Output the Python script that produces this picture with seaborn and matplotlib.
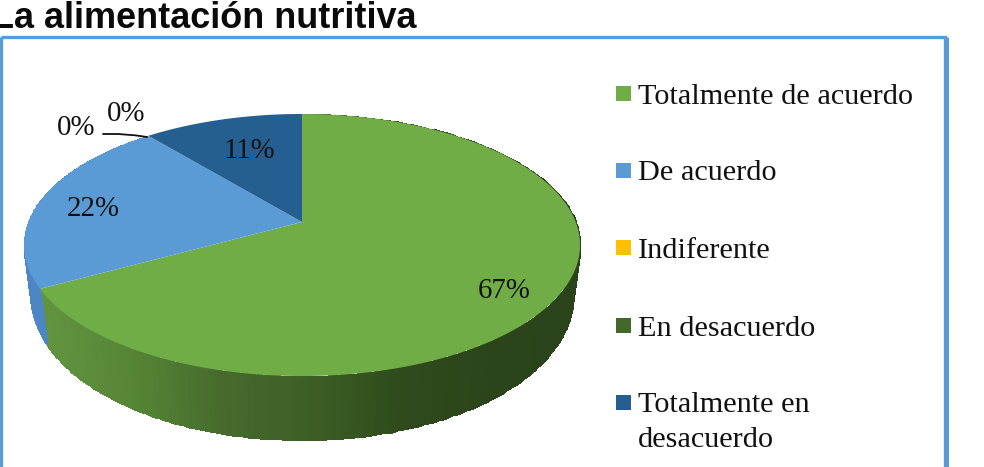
import numpy as np
import matplotlib
matplotlib.use("Agg")
import matplotlib.pyplot as plt
from matplotlib.colors import LinearSegmentedColormap, Normalize
from matplotlib.patches import Rectangle
from matplotlib.path import Path
from matplotlib.transforms import Transform
import seaborn as sns

title = "La alimentación nutritiva"
categories = ["Totalmente de acuerdo", "De acuerdo", "Indiferente",
              "En desacuerdo", "Totalmente en\ndesacuerdo"]
percentages = [67, 22, 0, 0, 11]
slice_colors = ["#70ad47", "#5b9bd5", "#ffc000", "#43682b", "#255e91"]

# Percentage label anchors on the canvas, in slice order
label_xy = [(504, 291), (93, 209), (76, 128), (126, 114), (249, 151)]
# Vertical centre of the first line of each legend entry
legend_rows = [94, 171, 248, 326, 403]

sns.set_theme(style="white")
plt.rcParams["font.family"] = ["Liberation Serif", "DejaVu Serif"]

FOCUS = 0.1756                       # perspective strength of the tilted disc
TOP_DISC = (302.0, 222.0, 273.7, 127.0)
BOTTOM_DISC = (302.0, 270.7, 266.8, 139.5)


def project(uv, disc):
    cx, cy, ax_x, ax_y = disc
    u, v = uv[:, 0], uv[:, 1]
    w = 1 + FOCUS * v
    return np.column_stack([cx + ax_x * u / w, cy - ax_y * v / w])


class TiltedDisc(Transform):
    """Projects the unit-circle pie onto a tilted plane seen in perspective."""
    input_dims = output_dims = 2
    is_separable = False
    has_inverse = False

    def __init__(self, disc):
        super().__init__()
        self.disc = disc

    def transform_non_affine(self, values):
        return project(np.asarray(values, dtype=float), self.disc)

    def transform_path_non_affine(self, path):
        pts = [path.vertices[0]]
        for curve, code in path.iter_bezier():
            if code == Path.MOVETO:
                continue
            pts.extend(curve(np.linspace(0, 1, 40))[1:])
        return Path(project(np.array(pts), self.disc), closed=True)


palette = sns.color_palette(slice_colors)

fig = plt.figure(figsize=(9.84, 4.67), dpi=100, facecolor="white")
ax = fig.add_axes([0, 0, 1, 1])

wedges, _ = ax.pie(percentages, colors=palette, startangle=90, counterclock=False,
                   radius=1, wedgeprops={"linewidth": 0, "zorder": 4})
top_transform = TiltedDisc(TOP_DISC) + ax.transData
for wedge in wedges:
    wedge.set_transform(top_transform)
    wedge.set_clip_on(False)

ax.set_aspect("auto")
ax.set_xlim(0, 984)
ax.set_ylim(467, 0)
ax.axis("off")

# Side wall of the disc: a strip between the rims of the top and bottom planes
wall_ramps = {
    0: LinearSegmentedColormap.from_list(
        "green_wall", ["#629440", "#558536", "#466b2d", "#3c5f25", "#2f4b1c", "#2c441a", "#2b431a"]),
    1: LinearSegmentedColormap.from_list("blue_wall", ["#4d86c4", "#4a80ba"]),
}
edges = np.cumsum([0] + percentages) / np.sum(percentages) * 2 * np.pi
x_norm = Normalize(40, 580)
for i, ramp in wall_ramps.items():
    theta = np.linspace(edges[i], edges[i + 1], 240)
    rim = np.column_stack([np.sin(theta), np.cos(theta)])
    upper, lower = project(rim, TOP_DISC), project(rim, BOTTOM_DISC)
    mesh_x = np.vstack([upper[:, 0], lower[:, 0]])
    mesh_y = np.vstack([upper[:, 1], lower[:, 1]])
    shade = ((upper[:-1, 0] + upper[1:, 0]) / 2)[None, :]
    ax.pcolormesh(mesh_x, mesh_y, shade, cmap=ramp, norm=x_norm, shading="flat",
                  edgecolors="face", linewidth=0.4, zorder=2)

# Percentage labels and the leader line of the zero slice
for value, (x, y) in zip(percentages, label_xy):
    ax.text(x, y, f"{value}%", fontsize=20.8, color="#111111",
            ha="center", va="center", zorder=6)
ax.plot([103, 118, 135, 147], [134, 134, 135.3, 137], color="#111111", lw=1.3, zorder=6)

# Chart frame, which runs past the lower edge of the canvas
frame_color = "#5b9bd5"
ax.add_patch(Rectangle((1.0, 37), 944, 450, fill=False, edgecolor=frame_color,
                       linewidth=2.4, zorder=1, clip_on=True))
ax.plot([945.5, 945.5], [37, 467], color=frame_color, lw=3.6, zorder=1, solid_capstyle="butt")

ax.text(-8, 27.5, title, family="Liberation Sans", fontweight="bold", fontsize=25.9,
        color="#0a0a0a", ha="left", va="baseline", zorder=6)

# Legend column: square swatch beside a label whose first line sits on the row
for category, colour, row in zip(categories, palette, legend_rows):
    ax.add_patch(Rectangle((616, row - 8), 15, 15, facecolor=colour, edgecolor="none", zorder=6))
    ax.text(638, row - 10.5, category, fontsize=21.8, color="#111111", linespacing=1.44,
            ha="left", va="top", zorder=6)

fig.savefig("out.png", dpi=100, facecolor="white")
